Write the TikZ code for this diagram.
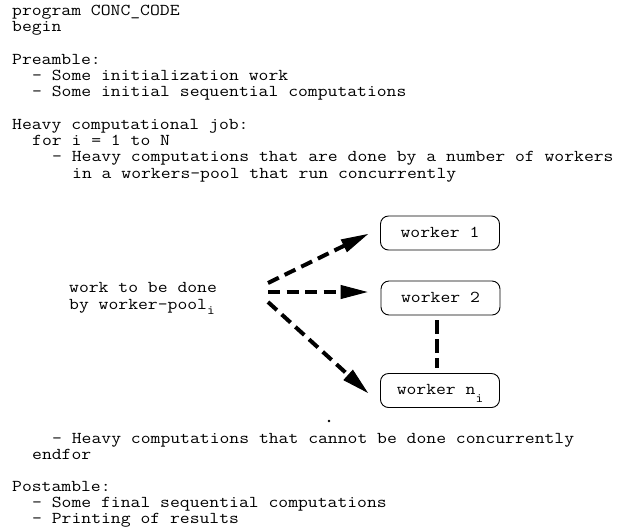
\documentclass[tikz,border=0pt]{standalone}
\usepackage{fontspec}
\setmainfont{Latin Modern Mono}[FakeStretch=1.152]
\usetikzlibrary{arrows.meta,calc}
\begin{document}
\begin{tikzpicture}[x=1pt,y=-1pt,
  txt/.style={anchor=base west, inner sep=0pt, font=\fontsize{16.6}{16.6}\selectfont},
  worker/.style={draw, line width=0.9pt, rounded corners=8pt, minimum width=119pt,
    minimum height=34pt, inner sep=0pt, text height=8pt, text depth=0pt,
    font=\fontsize{16.6}{16.6}\selectfont},
  flow/.style={line width=4pt, dash pattern=on 12pt off 6.5pt,
    -{Triangle[length=27pt,width=14pt,line width=1pt]}},
  link/.style={line width=4.5pt, dash pattern=on 14pt off 5pt}]
\useasboundingbox (0,0) rectangle (618,531);

% program text
\node[txt] (l1)  at (12,15)    {program CONC\_CODE};
\node[txt] (l2)  at (12,31.3)  {begin};
\node[txt] (l3)  at (12,64)    {Preamble:};
\node[txt] (l4)  at (32,80.2)  {- Some initialization work};
\node[txt] (l5)  at (32,96.5)  {- Some initial sequential computations};
\node[txt] (l6)  at (12,129)   {Heavy computational job:};
\node[txt] (l7)  at (32,145.4) {for i = 1 to N};
\node[txt] (l8)  at (52,161.7) {- Heavy computations that are done by a number of workers};
\node[txt] (l9)  at (72,178)   {in a workers-pool that run concurrently};

\node[txt] (wp1) at (69,292) {work to be done};
\node[txt] (wp2) at (69,309) {by worker-pool\raisebox{-5pt}{\fontsize{13}{13}\selectfont i}};

\node[txt] (l10) at (52,443)   {- Heavy computations that cannot be done concurrently};
\node[txt] (l11) at (32,459)   {endfor};
\node[txt] (l12) at (12,491)   {Postamble:};
\node[txt] (l13) at (32,507)   {- Some final sequential computations};
\node[txt] (l14) at (32,523.3) {- Printing of results};

% workers
\node[worker] (w1) at (440,233)   {worker 1};
\node[worker] (w2) at (440.5,298) {worker 2};
\node[worker] (wn) at (440,390.5) {worker n\smash{\raisebox{-8pt}{\fontsize{13}{13}\selectfont i}}};

% connectors
\coordinate (s1) at (268,283);
\coordinate (s2) at (268,292);
\coordinate (s3) at (268,302);
\draw[flow] (s1) -- ($(w1.west)+(-12,1)$);
\draw[flow] (s2) -- ($(w2.west)+(-13,-6)$);
\draw[flow] (s3) -- ($(wn.west)+(-12,2.5)$);
\draw[link] ($(w2.south)+(-3.5,5)$) -- ($(wn.north)+(-3,-5)$);

% stray dot
\fill (329,421) circle (1.3pt);
\end{tikzpicture}
\end{document}
